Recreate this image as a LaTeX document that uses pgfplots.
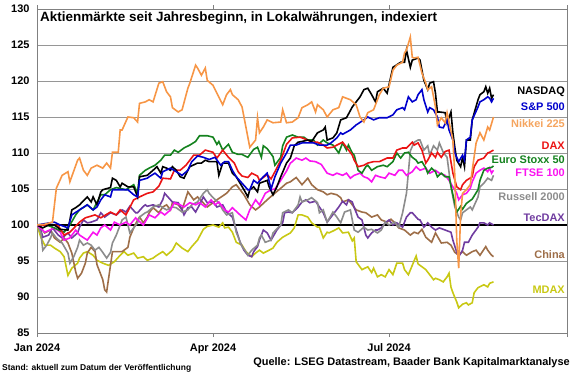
\documentclass[border=0pt]{standalone}
\usepackage{fontspec}
\setmainfont{Liberation Sans}
\usepackage{pgfplots}
\pgfplotsset{compat=1.18}
\definecolor{cnasdaq}{RGB}{0,0,0}
\definecolor{csp}{RGB}{0,0,204}
\definecolor{cnikkei}{RGB}{247,150,70}
\definecolor{cnikkeilab}{RGB}{245,165,95}
\definecolor{cdax}{RGB}{235,20,20}
\definecolor{ceuro}{RGB}{20,130,30}
\definecolor{cftse}{RGB}{250,20,240}
\definecolor{crussell}{RGB}{140,140,140}
\definecolor{ctecdax}{RGB}{112,60,160}
\definecolor{cchina}{RGB}{158,110,72}
\definecolor{cmdax}{RGB}{200,200,20}
\definecolor{gridgray}{RGB}{150,150,150}
\definecolor{axisgray}{RGB}{128,128,128}
\begin{document}
\begin{tikzpicture}[x=1bp,y=1bp]
\path[use as bounding box] (0,0) rectangle (580,375);
\begin{axis}[
  at={(37bp,42bp)}, anchor=south west,
  scale only axis, width=530bp, height=324bp,
  xmin=0, xmax=274, ymin=85, ymax=130,
  xtick={0,91,182,274}, xticklabels={Jan 2024,Apr 2024,Jul 2024,{}},
  ytick={85,90,...,130},
  ymajorgrids, grid style={color=gridgray, line width=0.8bp},
  axis line style={color=axisgray, line width=1bp},
  tick align=outside, major tick length=4bp,
  xtick style={draw=axisgray, line width=1bp},
  ytick style={draw=none},
  tick label style={font=\bfseries\fontsize{11}{12}\selectfont},
  xticklabel style={yshift=-3bp},
  /pgf/number format/assume math mode=true,
  every axis plot/.append style={line width=1.6bp, mark=none},
]
\addplot[black, line width=1.8bp] coordinates {(0,100) (274,100)};
% MDAX
\addplot[cmdax] coordinates {(0,100) (2,98.3) (4,97.2) (7,97.2) (9,96.8) (12,96.3) (14,95.6) (16,93) (18,94) (21,94.7) (22,95.4) (24,96.1) (26,96.3) (29,95.8) (31,95.1) (34,94.7) (37,94.4) (40,94.9) (43,95.8) (45,96.3) (47,95.8) (50,96.1) (52,95.4) (55,95.6) (57,95.1) (60,95.4) (62,95.8) (65,96.3) (67,95.8) (70,96.5) (72,97.5) (75,96.8) (78,96.3) (80,97) (83,97.9) (86,99.4) (88,99.8) (91,100) (94,99.7) (96,100.3) (97,99.6) (99,99.7) (101,99) (103,97.6) (106,97.2) (108,96.3) (111,95.6) (113,96.1) (115,96.5) (117,96.1) (120,96.5) (122,96.8) (124,97.6) (127,98.3) (129,98.6) (131,98.9) (133,99.6) (135,101.4) (137,101.4) (140,101.1) (142,100.3) (145,99.7) (146,99.7) (148,98.2) (150,99) (151,98.9) (154,99.3) (156,99.6) (158,98.9) (161,99) (163,97.8) (164,98.2) (165,94.9) (168,93.8) (171,94.2) (173,93.4) (174,94) (176,92.8) (178,93.1) (180,92.8) (182,93.8) (184,93.1) (186,94.7) (189,94.7) (190,93.8) (192,93.1) (194,94.4) (196,95.7) (197,94.6) (199,94.2) (201,93.8) (203,93.1) (205,92.4) (206,92.6) (208,92.4) (210,92.1) (212,92.8) (213,93.3) (214,91.4) (215,90.6) (217,89.3) (218,88.5) (220,89) (222,89.2) (223,88.9) (225,89.2) (226,90.6) (228,91.3) (231,91.7) (233,91.4) (234,91.9) (236,92.1)};
% China
\addplot[cchina] coordinates {(0,100) (2,99.6) (4,98.9) (7,99.3) (9,98.2) (12,97.6) (14,98.2) (16,97.5) (18,96.1) (20,93.5) (21,92.6) (23,93.3) (25,94.7) (26,96.1) (28,96.9) (30,96.3) (31,94.5) (34,92.4) (35,91) (36,90.7) (38,94.4) (39,96.3) (41,96.3) (44,96.3) (47,96.9) (48,98.3) (50,99.6) (52,100.7) (53,101.1) (55,100.3) (57,101.1) (58,101.7) (60,102.4) (63,101.7) (65,102.5) (67,102.8) (69,102.1) (70,103.1) (73,102.8) (75,102.1) (78,104.6) (81,103.5) (83,103.9) (88,102.5) (93,103.5) (98,104.4) (101,105.3) (103,105.6) (107,104.2) (110,102.8) (113,102.1) (115,102.5) (119,103.5) (122,104.2) (126,105.1) (129,105.8) (131,106) (134,106.6) (137,105.6) (140,106.5) (142,105.6) (145,104.9) (148,104.6) (150,104.2) (152,104.4) (155,104.2) (157,103.8) (158,103.2) (161,103.5) (163,102.8) (165,102.1) (168,101.8) (170,101.7) (173,101.1) (176,101.4) (178,100.7) (181,100.4) (183,100.8) (185,100.3) (187,99.6) (190,99.3) (193,98.6) (195,99) (197,98.8) (199,99.4) (201,98.3) (204,97.6) (206,98.9) (209,97.5) (212,97.6) (214,97.2) (216,96.2) (218,95.8) (220,96.3) (222,95.8) (225,96.3) (227,96.5) (229,95.8) (232,97) (233,96.5) (235,95.8) (236,95.6)};
% TecDAX
\addplot[ctecdax] coordinates {(0,100) (2,99.3) (3,98.3) (6,98.6) (8,99.6) (11,98.6) (13,98.2) (16,98.9) (18,98.2) (21,98.9) (22,99.7) (24,100.7) (26,100.3) (28,100.4) (31,100.7) (33,101.7) (35,101.1) (38,101.7) (41,101.4) (44,102.1) (46,101.8) (48,102.6) (51,101.7) (52,101.7) (55,102.6) (56,102.8) (57,102.6) (60,102.8) (63,102.5) (65,103.5) (66,104.4) (68,103.8) (70,103.2) (73,103.1) (75,102.1) (76,101.4) (78,102.4) (80,102.5) (82,101.8) (84,102.8) (86,103.9) (88,103.1) (91,103.2) (93,102.5) (96,102.8) (98,101.8) (101,101.1) (103,99.3) (105,97.6) (107,96.5) (109,95.8) (111,95.6) (112,96.3) (114,97) (115,97.9) (117,99.3) (119,98.9) (121,97.9) (124,99.3) (127,100.3) (128,101.7) (130,101.8) (132,101.7) (135,102.5) (137,103.2) (139,103.5) (141,103.1) (144,103.3) (146,102.5) (148,101.7) (150,100.4) (152,101.1) (154,101.8) (156,102.5) (158,103.3) (160,102.8) (161,103.5) (163,103.2) (164,102.4) (166,101.1) (168,100.7) (170,98.6) (171,98.2) (173,98.9) (175,99.3) (176,99.3) (178,99.6) (180,100.3) (182,100.7) (184,100) (186,100.3) (189,99.7) (191,101.1) (193,101.7) (194,101.7) (197,100.8) (198,100.7) (200,99.7) (202,100.3) (204,99.7) (206,99.3) (208,99.6) (211,99.3) (214,99) (215,97.9) (217,96.2) (218,95.6) (220,96.5) (221,97.6) (223,97.6) (225,98.6) (228,99.7) (229,100.3) (231,100.3) (233,100) (234,100.3) (236,100)};
% Russell 2000
\addplot[crussell] coordinates {(0,100) (2,98.9) (3,96.5) (5,97.2) (7,98.2) (8,98.9) (10,98.2) (13,97.5) (16,96.1) (17,94.7) (19,95.6) (21,96.9) (22,97.9) (24,97.2) (26,97.5) (28,97.2) (30,96.5) (32,96.9) (34,96.2) (36,95.4) (38,96.2) (39,97.5) (41,98.6) (44,100.7) (46,101.1) (47,100) (48,98.9) (50,99.6) (52,100.3) (53,101.1) (56,101.7) (57,101.8) (60,102.5) (63,102.8) (65,102.4) (67,102.1) (70,102.5) (72,102.4) (75,101.8) (78,102.1) (80,102.8) (83,103.2) (86,104.4) (88,104.9) (89,104.4) (91,103.8) (94,103.1) (96,102.1) (98,101.4) (101,101.7) (103,99) (106,97) (108,96.3) (109,95.8) (111,96.5) (114,97.2) (115,98.2) (116,98.6) (118,97.6) (121,97.9) (122,98.9) (126,100) (127,101.7) (130,102.1) (132,101.7) (135,102.8) (136,103.9) (137,103.2) (140,103.5) (142,103.8) (145,103.1) (146,101.7) (148,102.1) (150,100.4) (153,101.8) (155,101.1) (157,100.3) (159,101.8) (162,102.1) (164,99.3) (166,99) (169,99.7) (171,99.3) (173,99.4) (176,98.9) (178,99.3) (180,100.4) (182,100) (185,100.4) (187,99.7) (189,101.7) (191,104.4) (193,110.3) (195,111.5) (197,111.8) (198,111.8) (200,110.4) (202,111) (203,109.7) (205,111) (207,110.4) (208,111.4) (210,110.1) (212,109.4) (214,105.3) (216,102.5) (218,101.1) (219,100.7) (220,101.7) (222,102.1) (224,102.5) (225,102.1) (228,103.9) (229,105.3) (231,105.8) (233,106.5) (235,106.2) (236,106.9)};
% FTSE 100
\addplot[cftse] coordinates {(0,100) (4,99) (9,99.6) (12,99) (14,97.9) (17,98.2) (20,99.3) (22,98.6) (26,97.9) (29,99) (31,98.6) (33,99.6) (35,100) (38,99.3) (40,100.4) (43,100) (46,100.4) (48,100) (51,101) (52,100.7) (55,100) (58,101.4) (61,101) (64,101.8) (66,101.4) (69,102.1) (71,103.1) (74,102.8) (76,102.5) (79,103.1) (82,102.8) (84,103.1) (87,102.5) (90,103.5) (92,102.8) (94,103.2) (97,102.1) (99,101.8) (101,102.4) (105,101.4) (108,100.7) (110,102.1) (113,103.5) (115,102.8) (118,104.4) (121,104.9) (123,105) (126,106.2) (129,107.5) (131,108.6) (132,108.8) (134,109.3) (137,109) (139,109.3) (141,108.9) (144,108.8) (147,108.4) (150,107.2) (153,106.9) (155,107.2) (158,106.9) (160,107.2) (162,106.5) (164,106.9) (167,107.2) (169,106.7) (171,106.5) (173,106) (175,106.9) (177,106.7) (180,106.5) (182,107.2) (185,106.9) (187,107.6) (189,107.6) (191,106.9) (194,107.4) (196,108.1) (198,107.6) (201,107.9) (203,107.2) (206,107.6) (208,107.2) (211,106.9) (213,106.2) (215,105.3) (217,104.4) (218,103.5) (220,104.2) (222,104.4) (224,105.1) (225,106) (227,107.2) (229,107.6) (231,107.9) (233,107.4) (234,107.9) (235,107.2) (236,107.6)};
% Euro Stoxx 50
\addplot[ceuro] coordinates {(0,100) (6,99.9) (9,99.6) (12,99.2) (14,99) (17,100) (20,101.4) (22,102.1) (26,102.8) (29,102.1) (33,104.2) (35,104.2) (38,104.9) (41,105.2) (46,104.9) (50,105.6) (52,104.4) (53,106.9) (56,107.6) (58,107.9) (61,108.3) (64,109) (66,109.7) (69,109.7) (71,110.4) (73,110.1) (76,110.7) (79,111.1) (82,111.6) (84,112.4) (88,112.4) (91,112.2) (93,111.2) (94,111.6) (96,110.4) (99,111.2) (101,110.1) (104,109.8) (106,109.8) (109,109.4) (112,110.5) (114,110.8) (116,109.4) (117,111) (119,110.6) (122,109.5) (123,108.3) (126,109.4) (127,111) (129,112.2) (132,112.5) (135,112.2) (138,112.2) (140,111.8) (143,111.8) (145,111.1) (148,111.8) (150,111.4) (153,111.1) (156,110) (158,111.4) (160,110.4) (161,111.1) (163,110) (164,109.7) (166,107.6) (168,107.2) (170,108.1) (171,108.3) (173,107.6) (176,108.1) (179,108.3) (181,108.1) (184,108.8) (186,110) (188,109.3) (190,110) (192,110.1) (194,109.4) (196,109) (197,108.6) (199,108.8) (201,107.9) (202,107.2) (204,107.9) (206,107.4) (207,106.7) (209,107.2) (211,106.7) (213,106.7) (215,104.2) (217,101.8) (219,102.6) (220,102.2) (222,103) (225,103.6) (228,104.9) (229,106.2) (231,107.6) (233,107.9) (235,108) (236,108.2)};
% DAX
\addplot[cdax] coordinates {(0,100) (6,100) (9,100) (11,99.9) (14,98.6) (17,99) (22,100.4) (25,101) (30,101.4) (33,101) (38,101.8) (41,101.4) (43,102.1) (46,101.4) (50,103.5) (53,103.9) (57,104.4) (60,104.6) (63,105.4) (65,106.5) (69,106.4) (71,107.6) (74,107.6) (77,108.3) (81,109.7) (84,109.7) (87,110.4) (91,110.1) (93,109.3) (96,110.4) (99,109.4) (102,108.6) (104,107.4) (106,106.8) (109,106.6) (111,107.2) (114,106.8) (115,106.2) (119,107) (121,106.4) (123,107.4) (126,109) (129,111.2) (132,112.1) (136,112.2) (140,111.8) (142,111.5) (145,111.5) (148,111.1) (150,110.7) (153,110.8) (155,111.1) (158,111.5) (160,110.8) (163,109.7) (164,109) (166,108.1) (169,108.3) (171,108.6) (174,108.8) (177,108.8) (181,109.3) (184,109.3) (186,110.4) (189,110.7) (191,110.7) (194,111.5) (195,111.1) (197,111.4) (199,110.4) (201,108.6) (202,109) (204,110) (206,109.4) (207,110.1) (209,109.4) (211,110.2) (213,110.4) (215,107.2) (217,105.3) (219,104.9) (220,105.6) (222,106.2) (225,106.7) (226,108.1) (228,109) (231,109.3) (233,110) (234,110.1) (236,110.4)};
% NASDAQ
\addplot[cnasdaq] coordinates {(0,100) (3,99.6) (6,100) (9,100) (12,99.4) (16,99.3) (18,102.1) (20,102.4) (22,102.8) (26,103.9) (28,103.2) (29,103.9) (31,102.8) (33,104.6) (34,104.9) (38,105.2) (39,106.5) (41,106.2) (43,105.3) (44,105.8) (47,105.3) (50,105.3) (52,103.9) (53,106.7) (57,106.9) (60,107.6) (62,108.1) (64,107.2) (65,108.1) (67,107.9) (69,107.6) (70,108.1) (72,107.6) (74,106.7) (76,106.5) (78,107.6) (79,108.1) (83,108.6) (85,108.6) (87,109) (89,108.8) (91,108.8) (93,108.8) (94,106.9) (96,108.6) (99,108.6) (101,107.2) (103,106.7) (105,105.8) (107,104.9) (109,103.9) (110,104.9) (112,105.3) (114,104.6) (115,105.8) (119,106.2) (120,105.3) (122,104.2) (124,105.3) (126,106.7) (129,108.6) (131,109.3) (133,111) (135,111.5) (137,111.6) (140,111.8) (142,111.6) (145,112.8) (148,113.2) (149,113.6) (150,111.8) (153,112.1) (155,112.8) (157,114.6) (160,114.9) (163,116.4) (167,117.8) (169,118.8) (171,119) (173,118.1) (175,117.1) (176,118.5) (179,119) (181,118.3) (184,121.9) (188,122.6) (190,122.6) (191,124.3) (193,121.9) (194,122.9) (197,123.2) (198,122.9) (200,120.1) (202,118.8) (203,119.7) (205,119.9) (206,118.3) (207,115.7) (208,115.7) (211,115.6) (212,114.2) (214,115.7) (215,112.8) (216,110.8) (217,109) (219,108.1) (220,109.4) (221,108.1) (222,111.8) (224,111.8) (225,114.6) (228,117.4) (229,118.1) (231,118.5) (232,119.2) (233,118.3) (234,119) (235,117.6) (236,118.1)};
% S&P 500
\addplot[csp] coordinates {(0,100) (9,100.4) (12,100) (16,99.6) (18,101.4) (22,102.1) (26,102.8) (29,102.1) (31,102.5) (33,103.5) (35,104.2) (38,103.9) (39,104.9) (43,104.9) (47,104.9) (50,104.2) (52,103.9) (53,106.2) (57,106.5) (58,106.7) (61,107.2) (64,106.5) (65,107.4) (69,107.9) (72,107.4) (75,106.9) (78,107.6) (80,108.8) (83,109.6) (86,109.4) (89,109.1) (92,109.4) (95,108.3) (97,108.8) (99,108.8) (101,107.6) (103,106.7) (106,105.8) (109,104.9) (110,104.9) (112,106.2) (114,105.8) (117,106.7) (119,107.2) (121,105) (123,106.7) (126,108.6) (129,110) (131,111.1) (134,111.1) (137,111.4) (140,111.4) (143,111.4) (146,111.1) (150,111.1) (152,111.4) (155,112.1) (157,112.8) (158,112.6) (162,113.2) (165,113.9) (169,114.6) (171,115) (174,114.6) (177,114.9) (181,114.9) (184,115.3) (186,116) (189,116.3) (190,116) (192,117.8) (194,117.1) (196,117.4) (197,118.1) (199,118.8) (200,117.4) (202,115.7) (203,116.3) (205,116) (207,115) (208,113.6) (210,113.5) (212,114.6) (213,113.2) (215,111.8) (216,110) (218,108.8) (220,109.7) (221,109) (222,111.8) (224,112.2) (225,114.6) (228,116.4) (229,117.1) (231,117.4) (233,117.8) (234,117.6) (235,117.1) (236,117.6)};
% Nikkei 225
\addplot[cnikkei] coordinates {(0,100) (4,100.1) (8,100.4) (10,105.1) (13,106.9) (16,107.4) (17,106) (21,109) (22,109.3) (24,107.6) (26,106.9) (28,107.9) (31,108.3) (34,107.9) (36,108.6) (38,107.9) (39,110.1) (42,110.1) (43,113.2) (44,113.2) (47,115) (50,114.9) (52,114.3) (53,116.9) (56,117.1) (58,117.4) (60,117.1) (63,119.7) (65,119.9) (67,118.5) (69,117.8) (70,116.3) (73,115.7) (75,116) (78,119) (79,119.7) (82,122.2) (83,121.8) (85,120.8) (87,121.8) (88,120.1) (91,119.4) (93,118.3) (96,116.7) (98,118.1) (100,118.8) (101,118.1) (104,117.4) (106,116.4) (108,113.6) (109,112.2) (110,110.8) (113,111.8) (114,114.9) (115,112.8) (117,113.6) (119,114.6) (122,114.2) (126,114.3) (127,116) (129,114.2) (132,114.3) (135,114.9) (137,116.3) (140,116.7) (142,117.1) (144,115.7) (145,116.7) (148,116) (150,115) (153,116) (156,116.3) (158,117.8) (162,117.4) (165,116.7) (167,115) (169,114.3) (171,115.6) (174,116) (176,117.4) (177,118.1) (179,119) (182,119.2) (184,121.5) (186,122.2) (189,122.6) (190,123.9) (191,124.3) (193,126.1) (194,123.3) (195,123.2) (197,123.3) (199,121.1) (201,119.7) (202,118.8) (204,119.2) (206,116.4) (207,113.9) (209,114.9) (211,114.2) (212,115.6) (215,111.8) (216,106.9) (217,97.9) (218,94) (219,101.4) (220,104.4) (222,104.9) (224,105.6) (225,107.6) (227,111.4) (229,112.8) (231,111.8) (233,113.6) (234,113.2) (236,115)};
\end{axis}
\node[anchor=west, inner sep=0, font=\bfseries\fontsize{13.5}{15}\selectfont] at (40,357) {Aktienmärkte seit Jahresbeginn, in Lokalwährungen, indexiert};
\begin{scope}[every node/.style={anchor=east, inner sep=0, font=\bfseries\fontsize{11}{12}\selectfont}]
\node[text=cnasdaq] at (565,283) {NASDAQ};
\node[text=csp] at (565,268) {S\&P 500};
\node[text=cnikkeilab] at (565,251) {Nikkei 225};
\node[text=cdax] at (565,229) {DAX};
\node[text=ceuro] at (565,215) {Euro Stoxx 50};
\node[text=cftse] at (565,202) {FTSE 100};
\node[text=crussell] at (565,178) {Russell 2000};
\node[text=ctecdax] at (565,157) {TecDAX};
\node[text=cchina] at (565,120) {China};
\node[text=cmdax] at (565,85) {MDAX};
\end{scope}
\node[anchor=west, inner sep=0, font=\bfseries\fontsize{8.5}{10}\selectfont] at (2,7) {Stand: aktuell zum Datum der Veröffentlichung};
\node[anchor=east, inner sep=0, font=\bfseries\fontsize{11}{12}\selectfont] at (570,12) {Quelle: LSEG Datastream, Baader Bank Kapitalmarktanalyse};
\end{tikzpicture}
\end{document}
